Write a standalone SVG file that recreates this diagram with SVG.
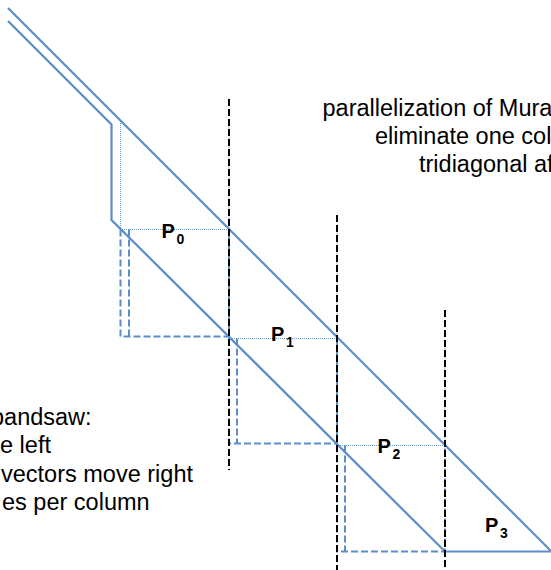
<svg xmlns="http://www.w3.org/2000/svg" width="551" height="570" viewBox="0 0 551 570">
<style>
.solid{fill:none;stroke:#5b8dc9;stroke-width:2.2;stroke-linejoin:miter}
.dot{fill:none;stroke:#6f9bd3;stroke-width:1;stroke-dasharray:1 1}
.bdash{fill:none;stroke:#5b8dc9;stroke-width:2;stroke-dasharray:7 3}
.kdash{fill:none;stroke:#000;stroke-width:2;stroke-dasharray:7 3}
.t{font-family:"Liberation Sans",Arial,sans-serif;font-size:23.5px;fill:#000}
.p{font-family:"Liberation Sans",Arial,sans-serif;font-size:20px;font-weight:bold;fill:#000}
.s{font-size:14px}
</style>
<rect width="551" height="570" fill="#fff"/>
<g id="connectors">
<path class="dot" d="M120.5 121 V229.5 H229 V121"/>
<path class="dot" d="M229 229.5 V338.5 H337 V229.5"/>
<path class="dot" d="M337 338.5 V445.5 H445 V338.5"/>
<path class="bdash" d="M120.5 229.5 V336.5 H229 V229.5"/>
<path class="bdash" d="M129 229.5 V336.5"/>
<path class="bdash" d="M229 338.5 V443.5 H337 V338.5"/>
<path class="bdash" d="M237 338.5 V443.5"/>
<path class="bdash" d="M337 445.5 V551.5 H445 V445.5"/>
<path class="bdash" d="M345 445.5 V551.5"/>
<path class="solid" d="M8 8 L551 551"/>
<path class="solid" d="M8 21 L111.5 124.5 V220 L445 551.5 H551"/>
<path class="kdash" d="M229 99 V470"/>
<path class="kdash" d="M337 215 V570"/>
<path class="kdash" d="M445 310 V570"/>
</g>
<g id="P0"><text class="p" x="161.5" y="238">P<tspan class="s" x="176.5" y="244">0</tspan></text></g>
<g id="P1"><text class="p" x="271" y="341">P<tspan class="s" x="286" y="347">1</tspan></text></g>
<g id="P2"><text class="p" x="377.5" y="453">P<tspan class="s" x="392.5" y="459">2</tspan></text></g>
<g id="P3"><text class="p" x="485" y="532">P<tspan class="s" x="500" y="538">3</tspan></text></g>
<g id="note-top">
<text class="t" x="322.5" y="116">parallelization of Mura</text>
<text class="t" x="375" y="144">eliminate one col</text>
<text class="t" x="419" y="172">tridiagonal af</text>
</g>
<g id="note-left">
<text class="t" x="-9" y="425">bandsaw:</text>
<text class="t" x="0" y="453">e left</text>
<text class="t" x="1" y="482">vectors move right</text>
<text class="t" x="2" y="510">es per column</text>
</g>
</svg>
